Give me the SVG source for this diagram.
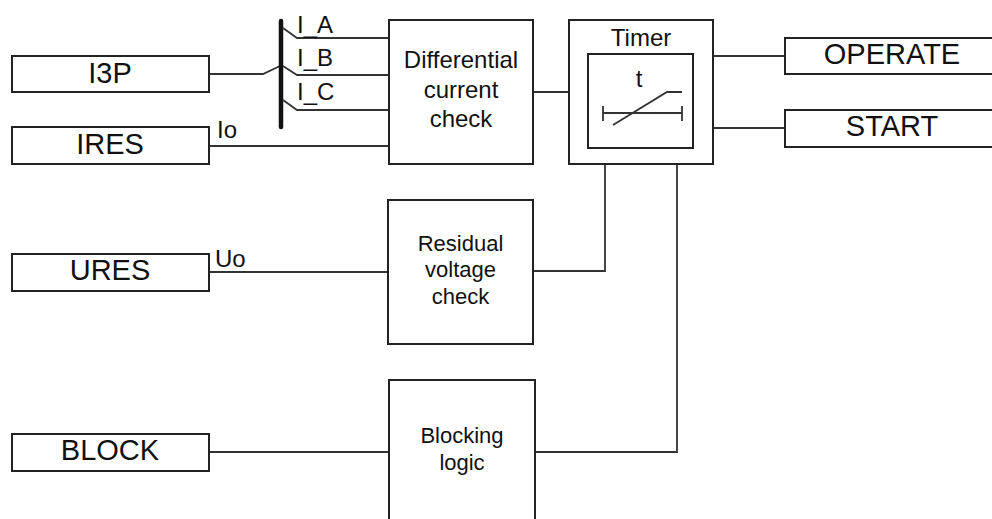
<svg xmlns="http://www.w3.org/2000/svg" width="992" height="519" viewBox="0 0 992 519">
<style>
.box{fill:#fff;stroke:#222;stroke-width:2}
.ln{fill:none;stroke:#333;stroke-width:1.8}
.big{font-family:"Liberation Sans",Arial,sans-serif;font-size:29px;fill:#111;text-anchor:middle}
.mid{font-family:"Liberation Sans",Arial,sans-serif;font-size:24px;fill:#111;text-anchor:middle}
.sm{font-family:"Liberation Sans",Arial,sans-serif;font-size:22px;fill:#111;text-anchor:middle}
.lbl{font-family:"Liberation Sans",Arial,sans-serif;font-size:24px;fill:#111}
</style>
<rect width="992" height="519" fill="#fff"/>
<g id="connectors">
<path class="ln" d="M209 74 H263 L280 66"/>
<line x1="281" y1="21" x2="281" y2="127" stroke="#111" stroke-width="4.5" stroke-linecap="round"/>
<path class="ln" d="M283 28 L297 38 H389"/>
<path class="ln" d="M283 66 L297 75 H389"/>
<path class="ln" d="M283 100 L297 110 H389"/>
<path class="ln" d="M209 146 H389"/>
<path class="ln" d="M209 272 H388"/>
<path class="ln" d="M209 452 H389"/>
<path class="ln" d="M533 92 H569"/>
<path class="ln" d="M533 271 H605 V164"/>
<path class="ln" d="M535 452 H677 V164"/>
<path class="ln" d="M713 56 H785"/>
<path class="ln" d="M713 128 H785"/>
<text class="lbl" x="297" y="33">I_A</text>
<text class="lbl" x="297" y="66">I_B</text>
<text class="lbl" x="297" y="100">I_C</text>
<text class="lbl" x="217" y="138">Io</text>
<text class="lbl" x="215" y="267">Uo</text>
</g>
<g id="i3p"><rect class="box" x="12" y="56" width="197" height="36"/><text class="big" x="110" y="83">I3P</text></g>
<g id="ires"><rect class="box" x="12" y="127" width="197" height="37"/><text class="big" x="110" y="154">IRES</text></g>
<g id="ures"><rect class="box" x="12" y="254" width="197" height="37"/><text class="big" x="110" y="280">URES</text></g>
<g id="block"><rect class="box" x="12" y="434" width="197" height="37"/><text class="big" x="110" y="460">BLOCK</text></g>
<g id="diff"><rect class="box" x="389" y="20" width="144" height="144"/>
<text class="mid" x="461" y="68">Differential</text><text class="mid" x="461" y="98">current</text><text class="mid" x="461" y="127">check</text></g>
<g id="residual"><rect class="box" x="388" y="200" width="145" height="144"/>
<text class="sm" x="460.5" y="251">Residual</text><text class="sm" x="460.5" y="277">voltage</text><text class="sm" x="460.5" y="304">check</text></g>
<g id="blocking"><rect class="box" x="389" y="380" width="146" height="160"/>
<text class="sm" x="462" y="443">Blocking</text><text class="sm" x="462" y="470">logic</text></g>
<g id="timer"><rect class="box" x="569" y="20" width="144" height="144"/>
<text class="mid" x="641" y="46">Timer</text>
<rect class="box" x="588" y="54" width="105" height="94"/>
<text class="mid" x="639" y="87">t</text>
<path class="ln" d="M603 113 H682 M603 106 V121 M682 106 V121 M613 125 L667 92 H682"/></g>
<g id="operate"><rect class="box" x="785" y="38" width="220" height="36"/><text class="big" x="892" y="64">OPERATE</text></g>
<g id="start"><rect class="box" x="785" y="110" width="220" height="37"/><text class="big" x="892" y="136">START</text></g>
</svg>
